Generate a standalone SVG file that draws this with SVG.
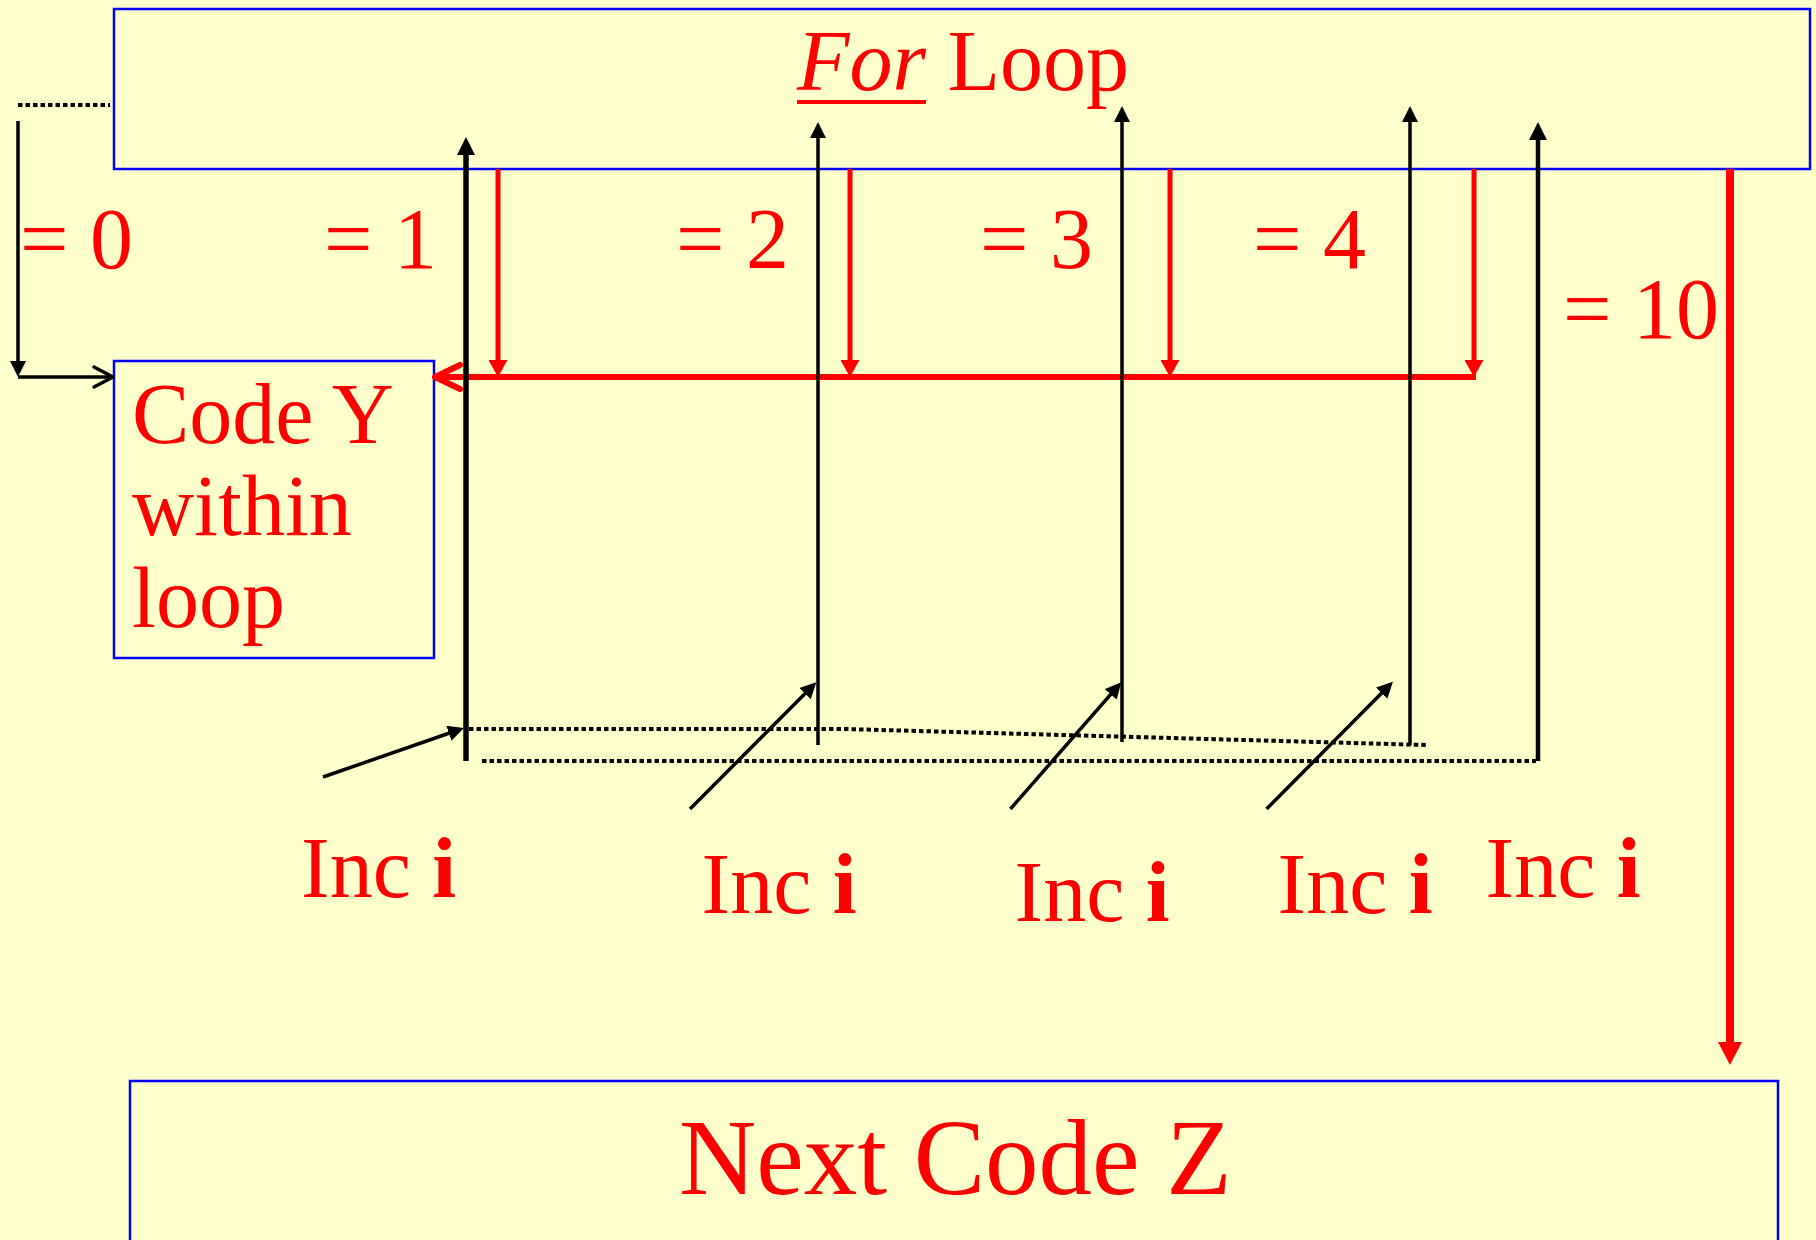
<svg xmlns="http://www.w3.org/2000/svg" width="1816" height="1240" viewBox="0 0 1816 1240">
<style>
.box{fill:#FFFFCC;stroke:#0000FF;stroke-width:2.5}
.lbl{font-family:"Liberation Serif","Times New Roman",serif;fill:#FF0000;font-size:86px}
.big{font-size:107px}
.blk{stroke:#000;stroke-width:3.5;fill:none}
.blkthick{stroke:#000;stroke-width:5.5;fill:none}
.dot{stroke:#000;stroke-width:4;fill:none;stroke-dasharray:4.5 3}
.red{stroke:#FF0000;stroke-width:5;fill:none}
.redmid{stroke:#FF0000;stroke-width:6;fill:none}
.redbig{stroke:#FF0000;stroke-width:8;fill:none}
</style>
<defs>
<marker id="ah" markerUnits="userSpaceOnUse" viewBox="0 0 16 16" markerWidth="16" markerHeight="16" refX="10" refY="8" orient="auto"><path d="M0,0 L16,8 L0,16 z" fill="#000"/></marker>
<marker id="ahT" markerUnits="userSpaceOnUse" viewBox="0 0 18 18" markerWidth="18" markerHeight="18" refX="11" refY="9" orient="auto"><path d="M0,0 L18,9 L0,18 z" fill="#000"/></marker>
<marker id="ahR" markerUnits="userSpaceOnUse" viewBox="0 0 17 19" markerWidth="17" markerHeight="19" refX="8" refY="9.5" orient="auto"><path d="M0,0 L17,9.5 L0,19 z" fill="#FF0000"/></marker>
<marker id="ahRB" markerUnits="userSpaceOnUse" viewBox="0 0 23 24" markerWidth="23" markerHeight="24" refX="11" refY="12" orient="auto"><path d="M0,0 L23,12 L0,24 z" fill="#FF0000"/></marker>
<marker id="openB" markerUnits="userSpaceOnUse" viewBox="-3 -3 25 26" markerWidth="25" markerHeight="26" refX="19" refY="10" orient="auto"><path d="M0,0 L19,10 L0,20" fill="none" stroke="#000" stroke-width="3.5" stroke-linecap="round" stroke-linejoin="round"/></marker>
<marker id="openR" markerUnits="userSpaceOnUse" viewBox="-4 -4 33 32" markerWidth="33" markerHeight="32" refX="25" refY="12" orient="auto"><path d="M0,0 L25,12 L0,24" fill="none" stroke="#FF0000" stroke-width="6" stroke-linecap="round" stroke-linejoin="round"/></marker>
</defs>
<rect width="1816" height="1240" fill="#FFFFCC"/>

<g id="for-loop">
<rect class="box" x="114" y="9" width="1696" height="160"/>
<text class="lbl" x="797" y="90"><tspan font-style="italic">For</tspan> Loop</text>
<line x1="797" y1="102" x2="926" y2="102" stroke="#FF0000" stroke-width="4"/>
</g>

<g id="code-y">
<rect class="box" x="114" y="361" width="320" height="297"/>
<text class="lbl" x="132" y="443">Code Y</text>
<text class="lbl" x="132" y="535">within</text>
<text class="lbl" x="132" y="627">loop</text>
</g>

<g id="next-code-z">
<rect class="box" x="130" y="1081" width="1648" height="200"/>
<text class="lbl big" x="679" y="1194">Next Code Z</text>
</g>

<g id="labels">
<text class="lbl" x="20" y="268">= 0</text>
<text class="lbl" x="324" y="268">= 1</text>
<text class="lbl" x="676" y="268">= 2</text>
<text class="lbl" x="980" y="268">= 3</text>
<text class="lbl" x="1253" y="268">= 4</text>
<text class="lbl" x="1563" y="338">= 10</text>
<text class="lbl" x="301" y="897">Inc <tspan font-weight="bold">i</tspan></text>
<text class="lbl" x="701.5" y="913">Inc <tspan font-weight="bold">i</tspan></text>
<text class="lbl" x="1014.5" y="921">Inc <tspan font-weight="bold">i</tspan></text>
<text class="lbl" x="1277.5" y="913">Inc <tspan font-weight="bold">i</tspan></text>
<text class="lbl" x="1485.5" y="897">Inc <tspan font-weight="bold">i</tspan></text>
</g>

<g id="connectors">
<line class="dot" x1="18" y1="105" x2="110" y2="105"/>
<line class="blk" x1="18" y1="121" x2="18" y2="371" marker-end="url(#ah)"/>
<line class="blk" x1="18" y1="377" x2="113" y2="377" marker-end="url(#openB)"/>

<line class="red" x1="498" y1="169" x2="498" y2="368" marker-end="url(#ahR)"/>
<line class="red" x1="850" y1="169" x2="850" y2="368" marker-end="url(#ahR)"/>
<line class="red" x1="1170" y1="169" x2="1170" y2="368" marker-end="url(#ahR)"/>
<line class="red" x1="1474" y1="169" x2="1474" y2="368" marker-end="url(#ahR)"/>
<line class="redmid" x1="1476" y1="377" x2="435" y2="377" marker-end="url(#openR)"/>

<line class="blkthick" x1="466" y1="761" x2="466" y2="144" marker-end="url(#ahT)"/>
<line class="blk" x1="818" y1="745" x2="818" y2="128" marker-end="url(#ah)"/>
<line class="blk" x1="1122" y1="742" x2="1122" y2="112" marker-end="url(#ah)"/>
<line class="blk" x1="1410" y1="745" x2="1410" y2="112" marker-end="url(#ah)"/>
<line class="blkthick" x1="1538" y1="761" x2="1538" y2="129" marker-end="url(#ahT)" style="stroke-width:4.5"/>

<line class="redbig" x1="1730" y1="169" x2="1730" y2="1053" marker-end="url(#ahRB)"/>

<polyline class="dot" points="469,729 845,729 1426,745"/>
<line class="dot" x1="482" y1="761" x2="1536" y2="761"/>

<line class="blk" x1="323" y1="777" x2="458.3" y2="730" marker-end="url(#ah)"/>
<line class="blk" x1="690" y1="809" x2="812.1" y2="686.5" marker-end="url(#ah)"/>
<line class="blk" x1="1010.4" y1="809" x2="1117.3" y2="686.8" marker-end="url(#ah)"/>
<line class="blk" x1="1266.5" y1="809" x2="1388.7" y2="686" marker-end="url(#ah)"/>
</g>
</svg>
